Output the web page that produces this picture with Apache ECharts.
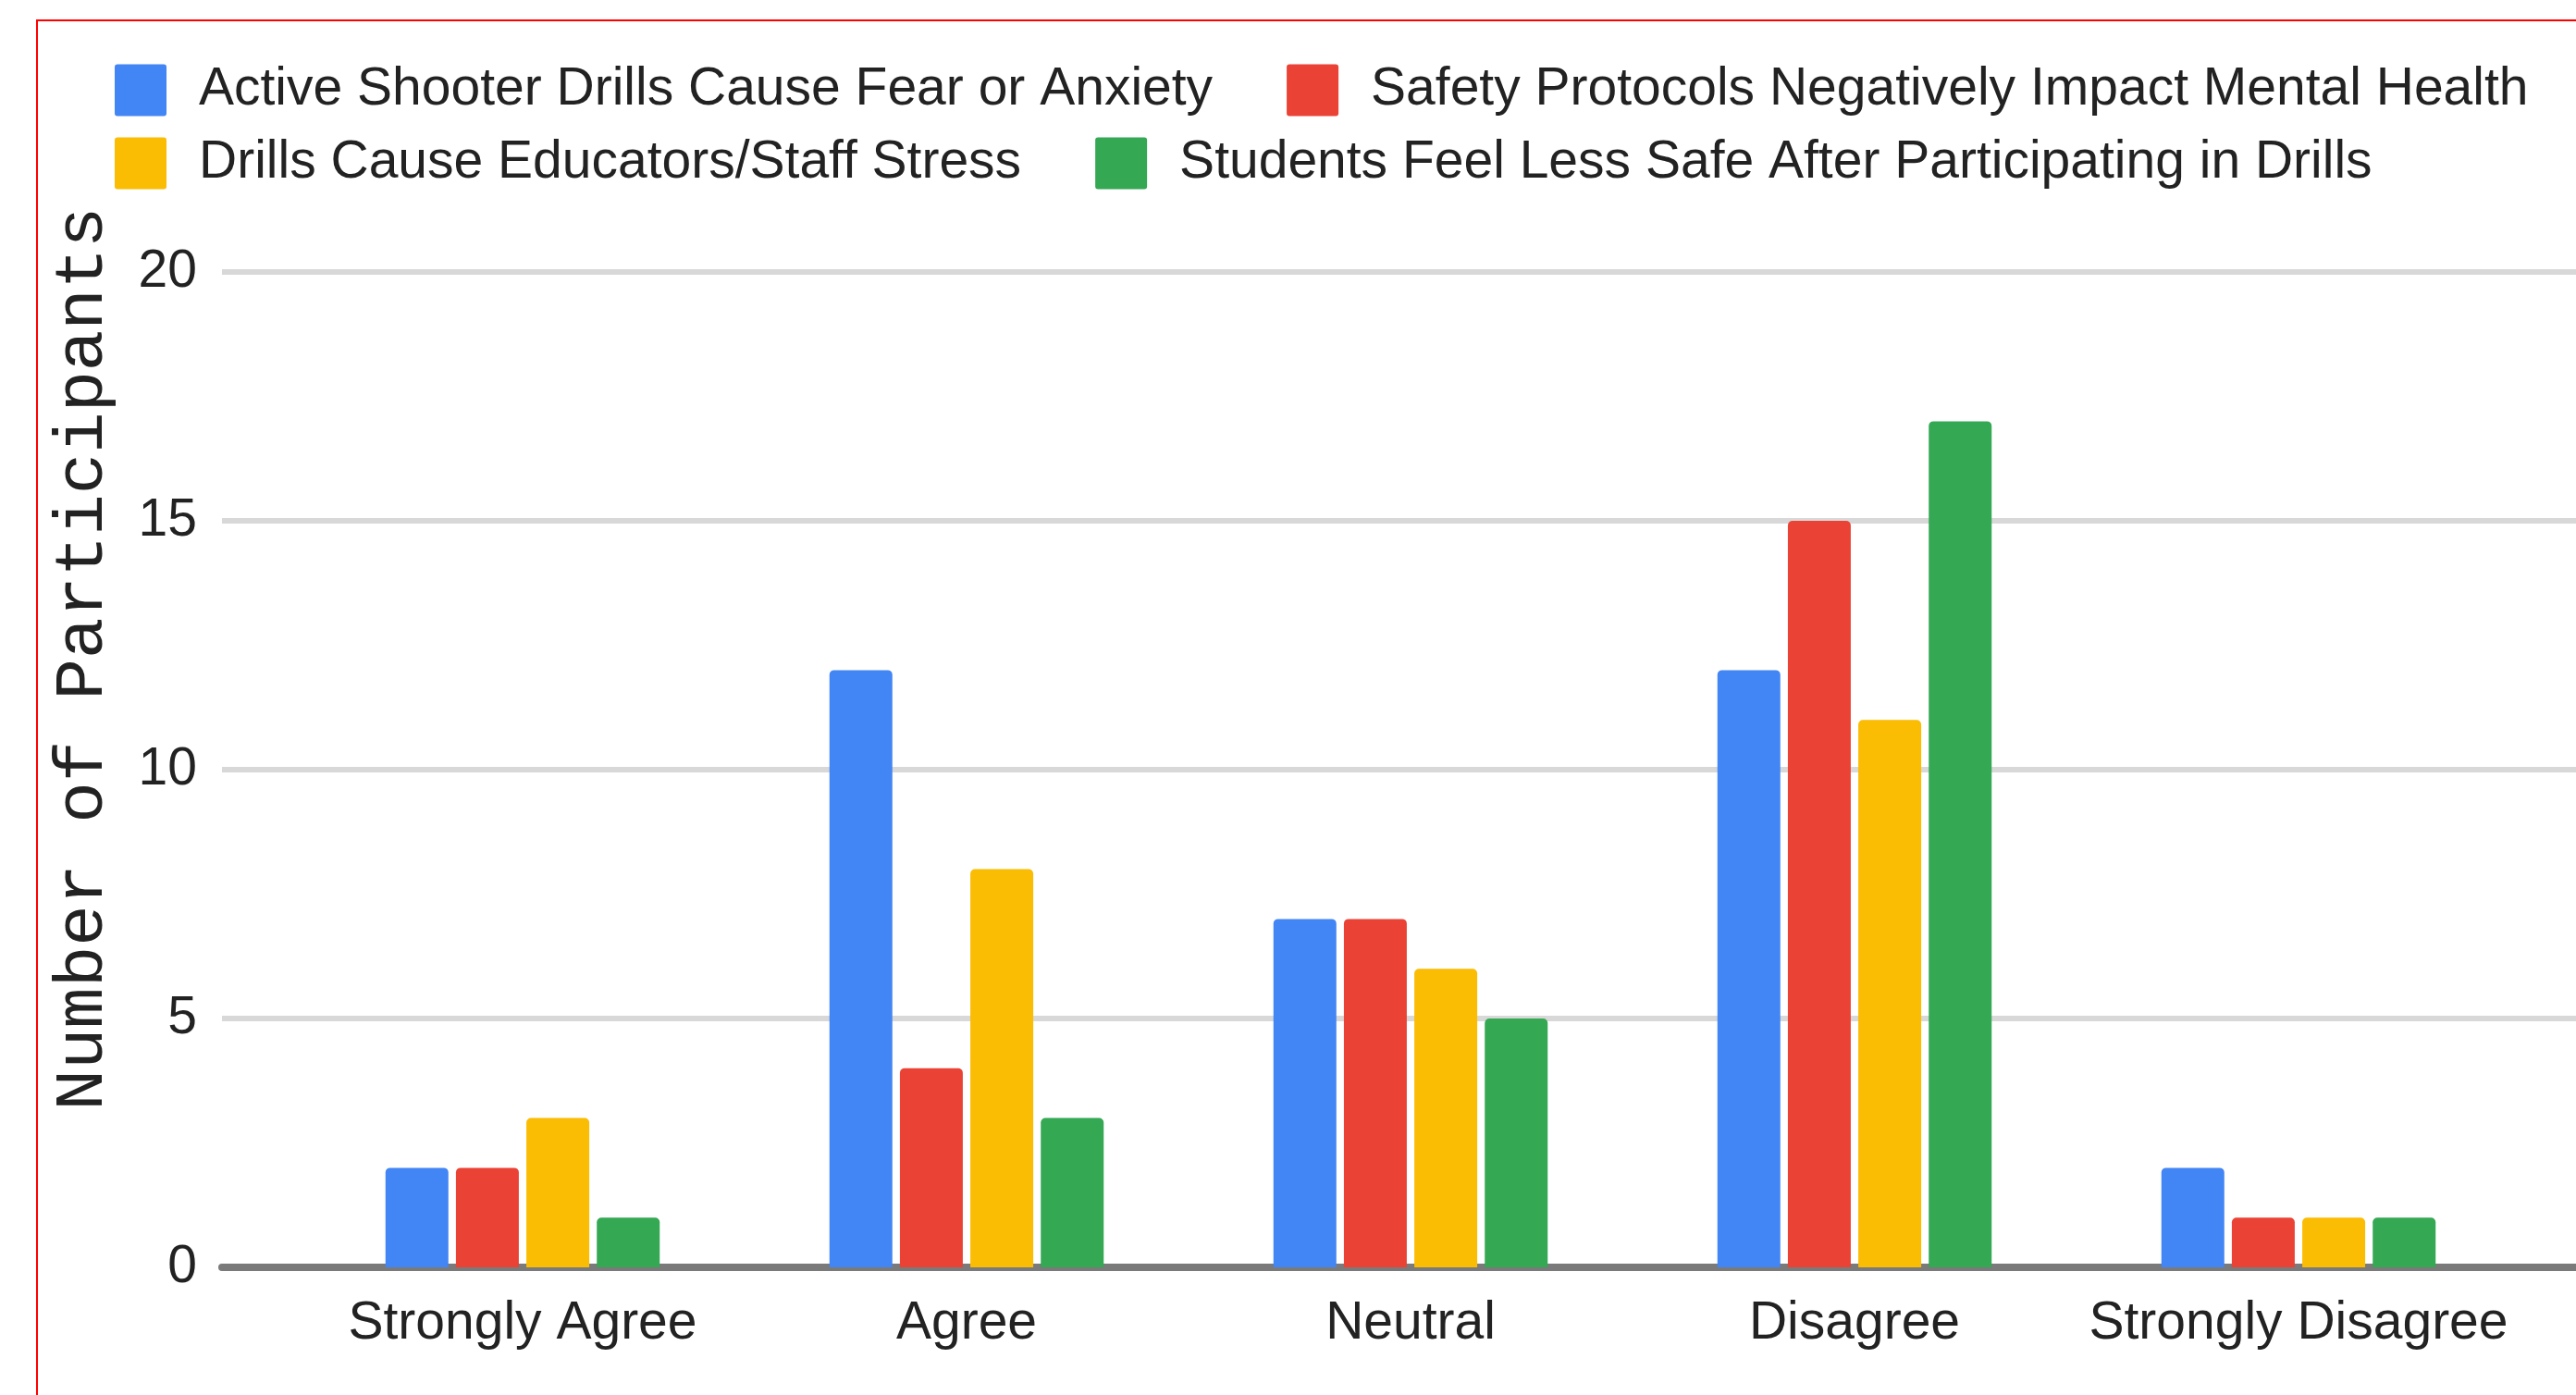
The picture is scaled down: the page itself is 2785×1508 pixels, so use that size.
<!DOCTYPE html>
<html>
<head>
<meta charset="utf-8">
<title>Drills survey</title>
<script src="https://cdn.jsdelivr.net/npm/echarts@6/dist/echarts.min.js"></script>
<style>
  html, body { margin: 0; padding: 0; background: #fff; }
  #main { width: 2785px; height: 1508px; }
</style>
</head>
<body>
<div id="main"></div>
<script>
// chart data
var categories = ["Strongly Agree", "Agree", "Neutral", "Disagree", "Strongly Disagree"];
var seriesNames = [
  "Active Shooter Drills Cause Fear or Anxiety",
  "Safety Protocols Negatively Impact Mental Health",
  "Drills Cause Educators/Staff Stress",
  "Students Feel Less Safe After Participating in Drills"
];
var fearAnxiety = [2, 12, 7, 12, 2];
var mentalHealth = [2, 4, 7, 15, 1];
var staffStress = [3, 8, 6, 11, 1];
var lessSafe = [1, 3, 5, 17, 1];
var yTicks = [0, 5, 10, 15, 20];

var colors = ["#4285F4", "#EA4335", "#FBBC04", "#34A853"];
var font = "'Liberation Sans', Arial, sans-serif";

var chart = echarts.init(document.getElementById("main"));

var legendStyle = {
  left: 119,
  itemWidth: 56,
  itemHeight: 56,
  itemGap: 80,
  icon: "path://M3,0 L53,0 Q56,0 56,3 L56,53 Q56,56 53,56 L3,56 Q0,56 0,53 L0,3 Q0,0 3,0 Z",
  textStyle: {
    fontFamily: font,
    fontSize: 57,
    color: "#222",
    padding: [0, 0, 0, 30]
  }
};

function makeBar(name, data, idx) {
  return {
    name: name,
    type: "bar",
    xAxisIndex: 1,
    yAxisIndex: 1,
    data: data,
    barWidth: 68,
    barGap: "12%",
    itemStyle: { color: colors[idx], borderRadius: [5, 5, 0, 0] },
    emphasis: { disabled: true }
  };
}

var option = {
  animation: false,
  color: colors,
  legend: [
    Object.assign({}, legendStyle, { top: 64, data: [seriesNames[0], seriesNames[1]] }),
    Object.assign({}, legendStyle, { top: 143, data: [seriesNames[2], seriesNames[3]] })
  ],
  graphic: [
    {
      type: "rect",
      shape: { x: 40, y: 22, width: 2800, height: 1600 },
      style: { fill: "none", stroke: "#ff0000", lineWidth: 2 },
      silent: true
    },
    {
      type: "text",
      x: 90,
      y: 712,
      rotation: Math.PI / 2,
      style: {
        text: "Number of Participants",
        font: "74px 'Liberation Mono', 'Courier New', monospace",
        fill: "#222",
        textAlign: "center",
        textVerticalAlign: "middle"
      },
      silent: true
    }
  ],
  grid: [
    // background grid: gridlines, y labels, baseline
    { left: 240, right: -10, top: 294, bottom: 138 },
    // bars
    { left: 325, width: 2400, top: 294, bottom: 138 }
  ],
  xAxis: [
    {
      gridIndex: 0,
      type: "value",
      min: 0,
      max: 1,
      axisLine: { show: true, lineStyle: { color: "#7a7a7a", width: 8 } },
      axisTick: { show: false },
      axisLabel: { show: false },
      splitLine: { show: false }
    },
    {
      gridIndex: 1,
      type: "category",
      data: categories,
      axisLine: { show: false },
      axisTick: { show: false },
      axisLabel: {
        interval: 0,
        fontFamily: font,
        fontSize: 57,
        color: "#222",
        margin: 33
      }
    }
  ],
  yAxis: [
    {
      gridIndex: 0,
      type: "value",
      min: yTicks[0],
      max: yTicks[yTicks.length - 1],
      interval: 5,
      axisLine: { show: false },
      axisTick: { show: false },
      axisLabel: {
        fontFamily: font,
        fontSize: 57,
        color: "#222",
        margin: 27
      },
      splitLine: { show: true, lineStyle: { color: "#d8d8d8", width: 6 } }
    },
    {
      gridIndex: 1,
      type: "value",
      min: yTicks[0],
      max: yTicks[yTicks.length - 1],
      interval: 5,
      show: false,
      splitLine: { show: false }
    }
  ],
  series: [
    makeBar(seriesNames[0], fearAnxiety, 0),
    makeBar(seriesNames[1], mentalHealth, 1),
    makeBar(seriesNames[2], staffStress, 2),
    makeBar(seriesNames[3], lessSafe, 3)
  ]
};

chart.setOption(option);
</script>
</body>
</html>
